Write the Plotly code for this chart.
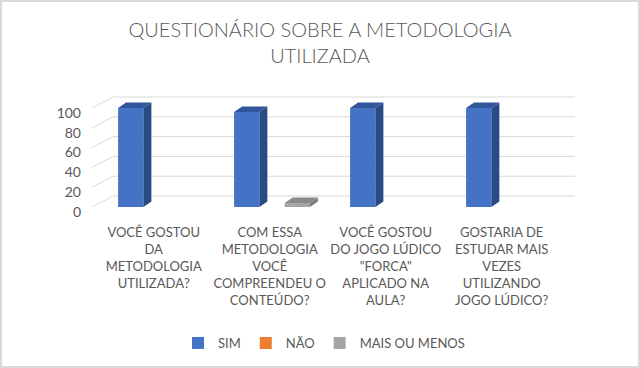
import plotly.graph_objects as go

# ---- data ----
categories = [
    "VOCÊ GOSTOU<br>DA<br>METODOLOGIA<br>UTILIZADA?",
    "COM ESSA<br>METODOLOGIA<br>VOCÊ<br>COMPREENDEU O<br>CONTEÚDO?",
    "VOCÊ GOSTOU<br>DO JOGO LÚDICO<br>\"FORCA\"<br>APLICADO NA<br>AULA?",
    "GOSTARIA DE<br>ESTUDAR MAIS<br>VEZES<br>UTILIZANDO<br>JOGO LÚDICO?",
]
series_names = ["SIM", "NÃO", "MAIS OU MENOS"]
sim_values = [100, 96, 100, 100]
nao_values = [0, 0, 0, 0]
mais_values = [0, 4, 0, 0]
y_ticks = [0, 20, 40, 60, 80, 100]
title_text = "QUESTIONÁRIO SOBRE A METODOLOGIA<br>UTILIZADA"

# ---- styles ----
front_colors = ["#4472C4", "#ED7D31", "#A5A5A5"]
side_colors = ["#2A4A84", "#B5561A", "#7A7A7A"]
top_colors = ["#31569B", "#D06A25", "#8A8A8A"]
text_color = "#595959"
grid_color = "#D9D9D9"
font_family = "Lato, 'Open Sans', sans-serif"

W, H = 640, 368
ml, mr, mt, mb = 92, 65, 90, 153
x_range = [-0.552, 3.612]
y_range = [-8.08, 118.18]

bar_w = 0.218          # width of a single bar (x units)
offsets = [-bar_w, 0.0, bar_w]
bar_dx, bar_dy = 0.069, 5.5      # depth of bars
floor_dx, floor_dy = 0.181, 11.1  # depth of floor/back wall
front_left = x_range[0]
back_right = x_range[1]
label_shift = 5.0   # y tick labels sit slightly below gridlines
cat_label_shift = -0.02

fig = go.Figure()

# back wall gridlines and left-wall diagonals (drawn below the bars)
shapes = []
for t in y_ticks:
    shapes.append(dict(type="line", xref="x", yref="y", layer="below",
                       x0=front_left, y0=t, x1=front_left + floor_dx, y1=t + floor_dy,
                       line=dict(color=grid_color, width=1)))
    shapes.append(dict(type="line", xref="x", yref="y", layer="below",
                       x0=front_left + floor_dx, y0=t + floor_dy, x1=back_right, y1=t + floor_dy,
                       line=dict(color=grid_color, width=1)))

all_values = [sim_values, nao_values, mais_values]
for s, (name, vals) in enumerate(zip(series_names, all_values)):
    xs = [i + offsets[s] for i in range(len(vals))]
    # front faces
    fig.add_trace(go.Bar(x=xs, y=vals, width=bar_w, name=name,
                         marker=dict(color=front_colors[s], line=dict(width=0)),
                         hoverinfo="skip"))
    # side faces and top faces
    sx, sy, tx, ty = [], [], [], []
    for x, v in zip(xs, vals):
        if v <= 0:
            continue
        x0, x1 = x - bar_w / 2, x + bar_w / 2
        sx += [x1, x1 + bar_dx, x1 + bar_dx, x1, x1, None]
        sy += [0, bar_dy, v + bar_dy, v, 0, None]
        tx += [x0, x1, x1 + bar_dx, x0 + bar_dx, x0, None]
        ty += [v, v, v + bar_dy, v + bar_dy, v, None]
    if sx:
        fig.add_trace(go.Scatter(x=sx, y=sy, mode="lines", fill="toself",
                                 fillcolor=side_colors[s],
                                 line=dict(width=0, color=side_colors[s]),
                                 showlegend=False, hoverinfo="skip"))
        fig.add_trace(go.Scatter(x=tx, y=ty, mode="lines", fill="toself",
                                 fillcolor=top_colors[s],
                                 line=dict(width=0, color=top_colors[s]),
                                 showlegend=False, hoverinfo="skip"))

pw = W - ml - mr
ph = H - mt - mb

shapes.append(dict(type="rect", xref="paper", yref="paper",
                   x0=-(ml - 1) / pw, x1=1 + (mr - 1) / pw,
                   y0=-(mb - 1) / ph, y1=1 + (mt - 1) / ph,
                   line=dict(color="#D9D9D9", width=2), fillcolor="rgba(0,0,0,0)"))

fig.update_layout(
    width=W, height=H,
    margin=dict(l=ml, r=mr, t=mt, b=mb, pad=0, autoexpand=False),
    paper_bgcolor="white", plot_bgcolor="white",
    font=dict(family=font_family, color=text_color, size=13),
    title=dict(text=title_text, x=0.5, xanchor="center", y=1 - 37 / H,
               yanchor="top", automargin=False,
               font=dict(size=20, color=text_color, weight=300)),
    showlegend=True,
    legend=dict(orientation="h", x=(324 - ml) / pw, xanchor="center",
                y=-(343 - (mt + ph)) / ph,
                yanchor="middle", font=dict(size=13, color=text_color),
                itemwidth=30, traceorder="normal"),
    xaxis=dict(range=x_range, showgrid=False, zeroline=False, showline=False,
               automargin=False, tickmode="array",
               tickvals=[i + cat_label_shift for i in range(len(categories))],
               ticktext=categories, ticks="", ticklabelstandoff=8,
               tickfont=dict(size=13, color=text_color), tickangle=0),
    yaxis=dict(range=y_range, showgrid=False, zeroline=False, showline=False,
               automargin=False, tickmode="array",
               tickvals=[t - label_shift for t in y_ticks],
               ticktext=[str(t) for t in y_ticks], ticks="",
               ticklabelstandoff=10,
               tickfont=dict(size=14, color=text_color)),
    shapes=shapes,
)

fig.write_html("out.html", config={"displayModeBar": False},
               post_script="document.body.style.margin='0';document.body.style.overflow='hidden';")
